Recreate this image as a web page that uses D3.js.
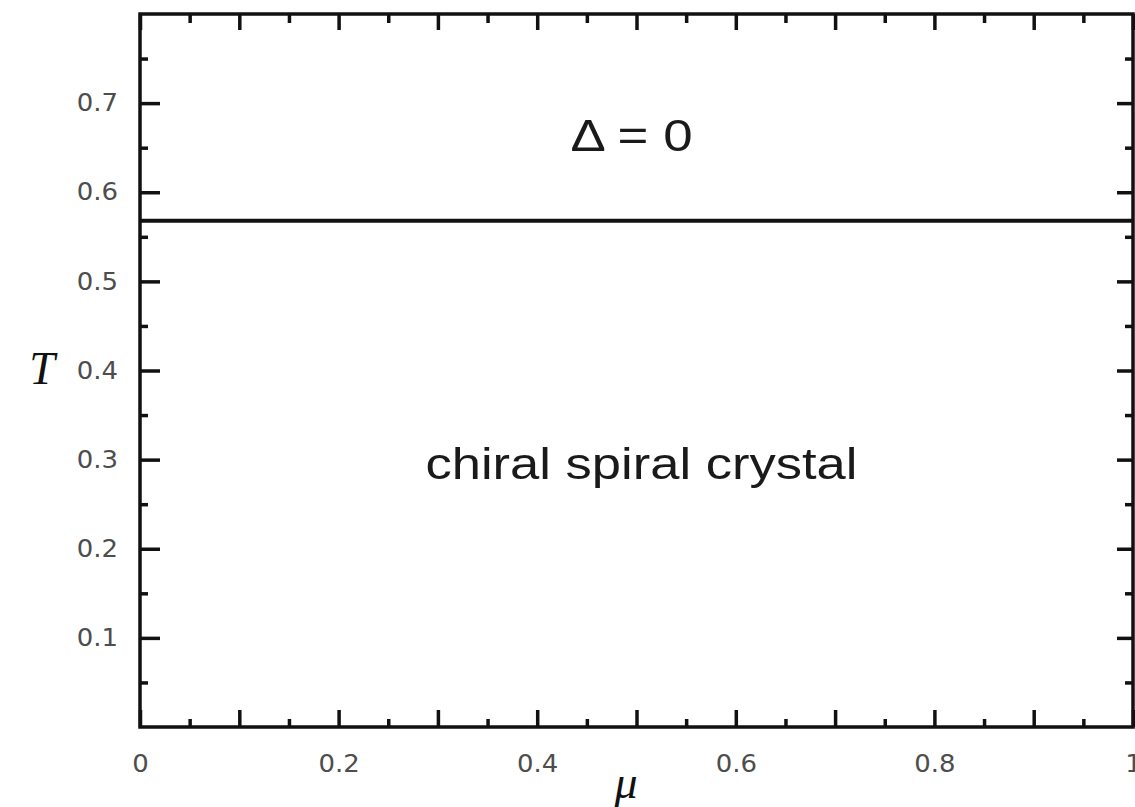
<!DOCTYPE html>
<html>
<head>
<meta charset="utf-8">
<script src="https://cdn.jsdelivr.net/npm/d3@7"></script>
<style>
  body { margin: 0; background: #fff; overflow: hidden; }
  svg { display: block; }
</style>
</head>
<body>
<div class="chart"></div>
<script>
// axis ranges
const muDomain = [0, 1];
const tDomain = [0, 0.8];

// tick values
const muMajor = [0, 0.1, 0.2, 0.3, 0.4, 0.5, 0.6, 0.7, 0.8, 0.9, 1];
const muMinor = [0.05, 0.15, 0.25, 0.35, 0.45, 0.55, 0.65, 0.75, 0.85, 0.95];
const muLabels = [0, 0.2, 0.4, 0.6, 0.8, 1];
const tMajor = [0.1, 0.2, 0.3, 0.4, 0.5, 0.6, 0.7];
const tMinor = [0.05, 0.15, 0.25, 0.35, 0.45, 0.55, 0.65, 0.75];
const tLabels = [0.1, 0.2, 0.3, 0.4, 0.5, 0.6, 0.7];

// phase boundary (horizontal line) and region labels
const boundaryT = [0.568];
const regionNames = ["\u0394 = 0", "chiral spiral crystal"];
const regionPos = [[0.495, 0.646], [0.505, 0.278]];

const w = 1135, h = 807;
const padL = 140, padR = 1133, padT = 14, padB = 727;

const x = d3.scaleLinear().domain(muDomain).range([padL, padR]);
const y = d3.scaleLinear().domain(tDomain).range([padB, padT]);

const svg = d3.select(".chart").append("svg")
  .attr("width", w).attr("height", h);

/* inward ticks on all four sides */
function ticks(axis, vals, size, tr) {
  const g = svg.append("g").attr("transform", tr)
    .call(axis.tickValues(vals).tickSize(size).tickFormat(""));
  g.select(".domain").remove();
  g.selectAll("line").attr("stroke", "#111").attr("stroke-width", 3.5);
}
ticks(d3.axisBottom(x), muMajor, -17, `translate(0,${padB})`);
ticks(d3.axisBottom(x), muMinor, -8, `translate(0,${padB})`);
ticks(d3.axisTop(x), muMajor, -16, `translate(0,${padT})`);
ticks(d3.axisTop(x), muMinor, -9, `translate(0,${padT})`);
ticks(d3.axisLeft(y), tMajor, -20, `translate(${padL},0)`);
ticks(d3.axisLeft(y), tMinor, -8, `translate(${padL},0)`);
ticks(d3.axisRight(y), tMajor, -16, `translate(${padR},0)`);
ticks(d3.axisRight(y), tMinor, -8, `translate(${padR},0)`);

/* tick labels */
const fmt = d => d === 0 ? "0" : d === 1 ? "1" : d3.format(".1f")(d);
const xl = svg.append("g").attr("transform", `translate(0,${padB})`)
  .call(d3.axisBottom(x).tickValues(muLabels).tickSize(0).tickPadding(28).tickFormat(fmt));
const yl = svg.append("g").attr("transform", `translate(${padL},0)`)
  .call(d3.axisLeft(y).tickValues(tLabels).tickSize(0).tickPadding(22).tickFormat(fmt));
[xl, yl].forEach(g => {
  g.select(".domain").remove();
  g.selectAll("text")
    .attr("font-family", "DejaVu Sans, sans-serif")
    .attr("font-size", 24)
    .attr("fill", "#4d4d4d")
    .each(function() {
      const len = this.getComputedTextLength();
      d3.select(this).attr("textLength", len * 1.08).attr("lengthAdjust", "spacingAndGlyphs");
    });
});

/* frame */
svg.append("rect")
  .attr("x", padL).attr("y", padT)
  .attr("width", padR - padL).attr("height", padB - padT)
  .attr("fill", "none").attr("stroke", "#111").attr("stroke-width", 3.5);

/* phase boundary */
svg.selectAll(".boundary").data(boundaryT).enter().append("line")
  .attr("class", "boundary")
  .attr("x1", x(muDomain[0])).attr("x2", x(muDomain[1]))
  .attr("y1", d => y(d)).attr("y2", d => y(d))
  .attr("stroke", "#111").attr("stroke-width", 4);

/* region labels, horizontally stretched like the source */
const widths = [122, 432];
svg.selectAll(".region").data(regionNames).enter().append("text")
  .attr("class", "region")
  .attr("x", (d, i) => x(regionPos[i][0]) - widths[i] / 2)
  .attr("y", (d, i) => y(regionPos[i][1]))
  .attr("font-family", "Liberation Sans, Arial, sans-serif")
  .attr("font-size", 44)
  .attr("fill", "#1a1a1a")
  .attr("textLength", (d, i) => widths[i])
  .attr("lengthAdjust", "spacingAndGlyphs")
  .text(d => d);

/* axis titles */
svg.append("text")
  .attr("x", 42).attr("y", 384)
  .attr("text-anchor", "middle")
  .attr("font-family", "Liberation Serif, serif")
  .attr("font-style", "italic")
  .attr("font-size", 46)
  .attr("fill", "#111")
  .text("T");
svg.append("text")
  .attr("x", 626).attr("y", 798)
  .attr("text-anchor", "middle")
  .attr("font-family", "Liberation Serif, serif")
  .attr("font-style", "italic")
  .attr("font-size", 46)
  .attr("fill", "#111")
  .text("\u03bc");
</script>
</body>
</html>
